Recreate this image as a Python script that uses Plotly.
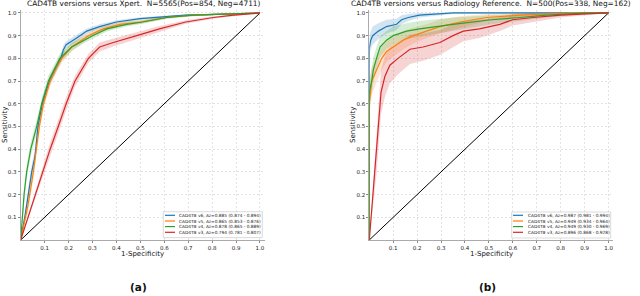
import plotly.graph_objects as go
import numpy as np

# ---------------- data ----------------
series_names = ["CAD4TB v6", "CAD4TB v5", "CAD4TB v4", "CAD4TB v3"]
series_colors = ["#1f77b4", "#ff7f0e", "#2ca02c", "#d62728"]

xpert_labels = [
    "CAD4TB v6, Az=0.885 (0.874 - 0.894)",
    "CAD4TB v5, Az=0.865 (0.853 - 0.876)",
    "CAD4TB v4, Az=0.878 (0.865 - 0.889)",
    "CAD4TB v3, Az=0.794 (0.781 - 0.807)",
]
radio_labels = [
    "CAD4TB v6, Az=0.987 (0.981 - 0.994)",
    "CAD4TB v5, Az=0.949 (0.934 - 0.964)",
    "CAD4TB v4, Az=0.949 (0.930 - 0.969)",
    "CAD4TB v3, Az=0.896 (0.868 - 0.928)",
]

# Xpert reference (left panel)
xp_v6_fpr = [0, 0.02, 0.046, 0.06, 0.072, 0.09, 0.12, 0.168, 0.178, 0.19, 0.234, 0.276, 0.33, 0.40, 0.5, 0.69, 0.85, 1.0]
xp_v6_tpr = [0, 0.12, 0.3, 0.37, 0.5, 0.6, 0.7, 0.8, 0.837, 0.86, 0.89, 0.92, 0.94, 0.96, 0.975, 0.99, 0.995, 1.0]
xp_v6_hw = [0, 0.03, 0.03, 0.03, 0.025, 0.025, 0.02, 0.02, 0.02, 0.015, 0.015, 0.012, 0.01, 0.008, 0.006, 0.004, 0.002, 0]

xp_v5_fpr = [0, 0.03, 0.053, 0.064, 0.078, 0.095, 0.123, 0.15, 0.171, 0.213, 0.283, 0.345, 0.415, 0.5, 0.61, 0.72, 0.85, 1.0]
xp_v5_tpr = [0, 0.15, 0.3, 0.4, 0.5, 0.6, 0.7, 0.76, 0.8, 0.85, 0.9, 0.93, 0.95, 0.96, 0.98, 0.99, 0.995, 1.0]
xp_v5_hw = [0, 0.03, 0.03, 0.03, 0.03, 0.025, 0.025, 0.02, 0.02, 0.018, 0.015, 0.012, 0.01, 0.008, 0.006, 0.004, 0.002, 0]

xp_v4_fpr = [0, 0.014, 0.025, 0.042, 0.067, 0.088, 0.116, 0.164, 0.213, 0.262, 0.30, 0.36, 0.443, 0.51, 0.61, 0.72, 0.85, 1.0]
xp_v4_tpr = [0, 0.2, 0.3, 0.4, 0.5, 0.6, 0.7, 0.8, 0.85, 0.88, 0.9, 0.93, 0.95, 0.96, 0.98, 0.99, 0.995, 1.0]
xp_v4_hw = [0, 0.03, 0.03, 0.03, 0.03, 0.025, 0.025, 0.02, 0.018, 0.015, 0.015, 0.012, 0.01, 0.008, 0.006, 0.004, 0.002, 0]

xp_v3_fpr = [0, 0.092, 0.123, 0.157, 0.19, 0.227, 0.283, 0.33, 0.387, 0.485, 0.58, 0.69, 0.805, 0.89, 1.0]
xp_v3_tpr = [0, 0.3, 0.4, 0.5, 0.6, 0.7, 0.8, 0.85, 0.87, 0.9, 0.93, 0.96, 0.98, 0.99, 1.0]
xp_v3_hw = [0, 0.03, 0.03, 0.03, 0.03, 0.025, 0.02, 0.02, 0.018, 0.015, 0.012, 0.008, 0.006, 0.004, 0]

# Radiology reference (right panel)
rd_v6_fpr = [0, 0, 0.006, 0.014, 0.038, 0.072, 0.114, 0.135, 0.163, 0.21, 0.35, 1.0]
rd_v6_tpr = [0, 0.845, 0.88, 0.9, 0.92, 0.94, 0.95, 0.97, 0.98, 0.99, 1.0, 1.0]
rd_v6_hw = [0, 0.04, 0.04, 0.04, 0.035, 0.03, 0.025, 0.02, 0.015, 0.01, 0.005, 0]

rd_v5_fpr = [0, 0, 0.01, 0.03, 0.052, 0.072, 0.114, 0.142, 0.184, 0.24, 0.295, 0.38, 0.49, 0.63, 0.85, 1.0]
rd_v5_tpr = [0, 0.6, 0.7, 0.75, 0.8, 0.83, 0.86, 0.88, 0.9, 0.92, 0.94, 0.96, 0.98, 0.99, 1.0, 1.0]
rd_v5_hw = [0, 0.06, 0.06, 0.055, 0.05, 0.045, 0.04, 0.04, 0.035, 0.03, 0.03, 0.025, 0.015, 0.01, 0.003, 0]

rd_v4_fpr = [0, 0, 0.01, 0.017, 0.03, 0.045, 0.072, 0.1, 0.156, 0.21, 0.35, 0.42, 0.51, 0.63, 0.74, 0.91, 1.0]
rd_v4_tpr = [0, 0.65, 0.7, 0.75, 0.8, 0.85, 0.88, 0.9, 0.92, 0.93, 0.95, 0.96, 0.97, 0.98, 0.99, 1.0, 1.0]
rd_v4_hw = [0, 0.06, 0.06, 0.055, 0.05, 0.045, 0.04, 0.04, 0.035, 0.035, 0.03, 0.025, 0.02, 0.015, 0.01, 0.003, 0]

rd_v3_fpr = [0, 0.031, 0.049, 0.065, 0.086, 0.12, 0.17, 0.225, 0.295, 0.35, 0.393, 0.46, 0.546, 0.60, 0.685, 0.80, 1.0]
rd_v3_tpr = [0, 0.4, 0.65, 0.72, 0.77, 0.8, 0.84, 0.85, 0.87, 0.9, 0.92, 0.93, 0.95, 0.97, 0.98, 0.99, 1.0]
rd_v3_hw = [0, 0.1, 0.1, 0.09, 0.08, 0.07, 0.065, 0.06, 0.055, 0.05, 0.045, 0.04, 0.03, 0.025, 0.02, 0.01, 0]

tick_vals = [0.1, 0.2, 0.3, 0.4, 0.5, 0.6, 0.7, 0.8, 0.9, 1.0]
tick_text = ["0.1", "0.2", "0.3", "0.4", "0.5", "0.6", "0.7", "0.8", "0.9", "1.0"]

left_title = "CAD4TB versions versus Xpert.  N=5565(Pos=854, Neg=4711)"
right_title = "CAD4TB versions versus Radiology Reference.  N=500(Pos=338, Neg=162)"

xpert = [(xp_v6_fpr, xp_v6_tpr, xp_v6_hw), (xp_v5_fpr, xp_v5_tpr, xp_v5_hw),
         (xp_v4_fpr, xp_v4_tpr, xp_v4_hw), (xp_v3_fpr, xp_v3_tpr, xp_v3_hw)]
radio = [(rd_v6_fpr, rd_v6_tpr, rd_v6_hw), (rd_v5_fpr, rd_v5_tpr, rd_v5_hw),
         (rd_v4_fpr, rd_v4_tpr, rd_v4_hw), (rd_v3_fpr, rd_v3_tpr, rd_v3_hw)]

FONT = "DejaVu Sans"
W, H = 640, 296


def px(x):
    return x / W


def py(y):
    return 1 - y / H


def rgba(hex_color, a):
    h = hex_color.lstrip("#")
    r, g, b = int(h[0:2], 16), int(h[2:4], 16), int(h[4:6], 16)
    return f"rgba({r},{g},{b},{a})"


fig = go.Figure()


def add_panel(data, labels, xa, ya):
    for (fpr, tpr, hw), col in zip(data, series_colors):
        t = np.array(tpr)
        h = np.array(hw)
        up = np.clip(t + h, 0, 1)
        lo = np.clip(t - h, 0, 1)
        fig.add_trace(go.Scatter(x=fpr, y=up, mode="lines", line=dict(width=0),
                                 xaxis=xa, yaxis=ya, showlegend=False, hoverinfo="skip"))
        fig.add_trace(go.Scatter(x=fpr, y=lo, mode="lines", line=dict(width=0),
                                 fill="tonexty", fillcolor=rgba(col, 0.2),
                                 xaxis=xa, yaxis=ya, showlegend=False, hoverinfo="skip"))
    fig.add_trace(go.Scatter(x=[0, 1], y=[0, 1], mode="lines", line=dict(color="black", width=1),
                             xaxis=xa, yaxis=ya, showlegend=False, hoverinfo="skip"))
    for (fpr, tpr, hw), col, lab in zip(data, series_colors, labels):
        fig.add_trace(go.Scatter(x=fpr, y=tpr, mode="lines", name=lab,
                                 line=dict(color=col, width=1.2),
                                 xaxis=xa, yaxis=ya, showlegend=False))


add_panel(xpert, xpert_labels, "x", "y")
add_panel(radio, radio_labels, "x2", "y2")

axis_common = dict(
    tickvals=tick_vals, ticktext=tick_text,
    showgrid=True, gridcolor="#e3e3e3", griddash="2px,2px", gridwidth=0.8,
    zeroline=False, showline=True, linecolor="#aaaaaa", linewidth=1,
    ticks="outside", ticklen=2, tickcolor="#888888",
    tickfont=dict(family=FONT, size=5.5, color="#222222"),
)

fig.update_layout(
    width=W, height=H,
    margin=dict(l=0, r=0, t=0, b=0),
    paper_bgcolor="white", plot_bgcolor="white",
    font=dict(family=FONT),
    xaxis=dict(domain=[px(20.7), px(265)], range=[0, 1.021], anchor="y", **axis_common),
    yaxis=dict(domain=[py(240), py(10)], range=[0, 1.013], anchor="x", **axis_common),
    xaxis2=dict(domain=[px(369.3), px(613.3)], range=[0, 1.02], anchor="y2", **axis_common),
    yaxis2=dict(domain=[py(240), py(10)], range=[0, 1.013], anchor="x2", **axis_common),
    showlegend=False,
)

# manual legends (box, line samples, labels)
legend_specs = [
    dict(box=(163.3, 211.7, 262.3, 237.6), line_x=(165, 175), text_x=177.3, labels=xpert_labels),
    dict(box=(511.7, 212.0, 610.7, 238.0), line_x=(513, 523), text_x=525.7, labels=radio_labels),
]
row_y = [215.0, 220.7, 226.3, 232.0]
for spec in legend_specs:
    x0, y0, x1, y1 = spec["box"]
    fig.add_shape(type="rect", xref="paper", yref="paper", x0=px(x0), x1=px(x1), y0=py(y1), y1=py(y0),
                  line=dict(color="#cccccc", width=0.7), fillcolor="rgba(255,255,255,0.85)", layer="above")
    for ry, col, lab in zip(row_y, series_colors, spec["labels"]):
        fig.add_shape(type="line", xref="paper", yref="paper",
                      x0=px(spec["line_x"][0]), x1=px(spec["line_x"][1]), y0=py(ry + 0.3), y1=py(ry + 0.3),
                      line=dict(color=col, width=1.2), layer="above")
        fig.add_annotation(text=lab, x=px(spec["text_x"]), y=py(ry + 0.3), xref="paper", yref="paper",
                           xanchor="left", yanchor="middle", showarrow=False,
                           font=dict(family=FONT, size=4.3, color="#222222"))

annots = [
    dict(text=left_title, x=143.5, y=4, size=7.4),
    dict(text=right_title, x=491, y=4, size=7.4),
    dict(text="1-Specificity", x=142.5, y=254, size=7),
    dict(text="1-Specificity", x=491, y=254, size=7),
    dict(text="<b>(a)</b>", x=138, y=287, size=10.5),
    dict(text="<b>(b)</b>", x=487, y=287, size=10.5),
]
for a in annots:
    fig.add_annotation(text=a["text"], x=px(a["x"]), y=py(a["y"]), xref="paper", yref="paper",
                       xanchor="center", yanchor="middle", showarrow=False,
                       font=dict(family=FONT, size=a["size"], color="#111111"))
for xx in [5, 353]:
    fig.add_annotation(text="Sensitivity", x=px(xx), y=py(125), xref="paper", yref="paper",
                       xanchor="center", yanchor="middle", showarrow=False, textangle=-90,
                       font=dict(family=FONT, size=7, color="#111111"))

fig.write_html("out.html", config={"displayModeBar": False},
               post_script="document.body.style.margin='0';document.body.style.padding='0';")
